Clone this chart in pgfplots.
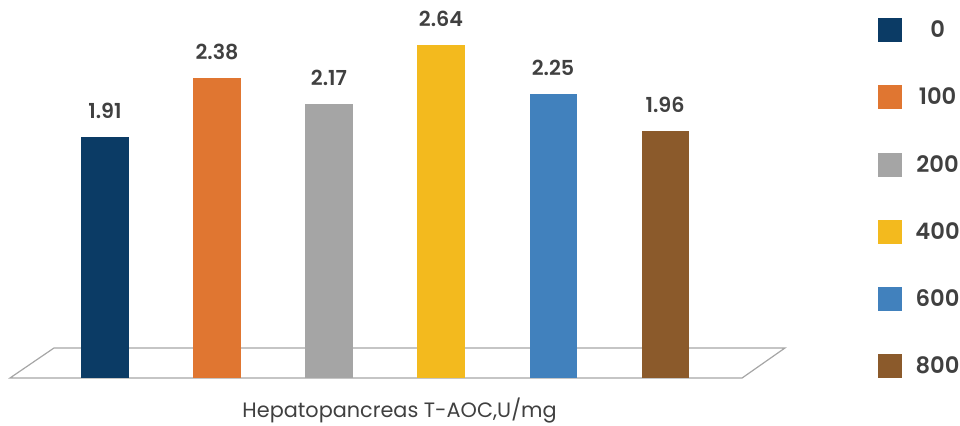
\documentclass[border=0pt]{standalone}
\usepackage{pgfplots}
\pgfplotsset{compat=1.18}
\usepackage{fontspec}
\setmainfont{Poppins}[BoldFont={* SemiBold}]

\definecolor{c0}{HTML}{0B3B65}
\definecolor{c100}{HTML}{E07631}
\definecolor{c200}{HTML}{A5A5A5}
\definecolor{c400}{HTML}{F3BA1E}
\definecolor{c600}{HTML}{4181BD}
\definecolor{c800}{HTML}{8B5A2B}
\definecolor{txt}{HTML}{404040}
\definecolor{floor}{HTML}{A6A6A6}

\newcommand{\lab}[1]{\makebox[33pt]{#1}}

\begin{document}
\begin{tikzpicture}
\begin{axis}[
  at={(0,0)}, anchor=south west,
  scale only axis,
  width=581.25pt, height=274.5pt,
  xmin=-0.848, xmax=6.071,
  ymin=0, ymax=2.9,
  axis line style={draw=none},
  xtick=\empty, ytick=\empty,
  clip=false,
  ybar, bar shift=0pt, bar width=0.42,
  /pgf/number format/assume math mode=true,
  nodes near coords={\pgfmathprintnumber[fixed,precision=2,fixed zerofill]{\pgfplotspointmeta}},
  every node near coord/.append style={anchor=south, font=\fontsize{15.5}{17}\selectfont\bfseries, text=txt, inner sep=0pt, yshift=13.5pt},
  legend style={draw=none, fill=none, at={(1.12,0.9836)}, anchor=north west,
    inner sep=0pt, row sep=32.2pt, font=\fontsize{17}{19}\selectfont\bfseries, text=txt,
    /tikz/every odd column/.append style={column sep=8pt}},
  legend cell align=center,
  legend image code/.code={\fill[#1,draw=none] (0pt,-9pt) rectangle (18pt,9pt);},
]
% floor plate under the bars
\draw[floor, line width=0.9pt] (axis cs:-0.848,0) -- (axis cs:-0.455,0.238)
  -- (axis cs:6.071,0.238) -- (axis cs:5.688,0) -- cycle;

\addplot[fill=c0, draw=none]   coordinates {(0,1.91)};
\addplot[fill=c100, draw=none] coordinates {(1,2.38)};
\addplot[fill=c200, draw=none] coordinates {(2,2.17)};
\addplot[fill=c400, draw=none] coordinates {(3,2.64)};
\addplot[fill=c600, draw=none] coordinates {(4,2.25)};
\addplot[fill=c800, draw=none] coordinates {(5,1.96)};
\legend{\lab{0},\lab{100},\lab{200},\lab{400},\lab{600},\lab{800}}

\node[font=\fontsize{15.6}{18}\selectfont, text=txt] at (axis cs:2.63,-0.255) {Hepatopancreas T-AOC,U/mg};
\end{axis}
\pgfresetboundingbox
\useasboundingbox (-7.5pt,-35.25pt) rectangle (712.5pt,283.5pt);
\end{tikzpicture}
\end{document}
